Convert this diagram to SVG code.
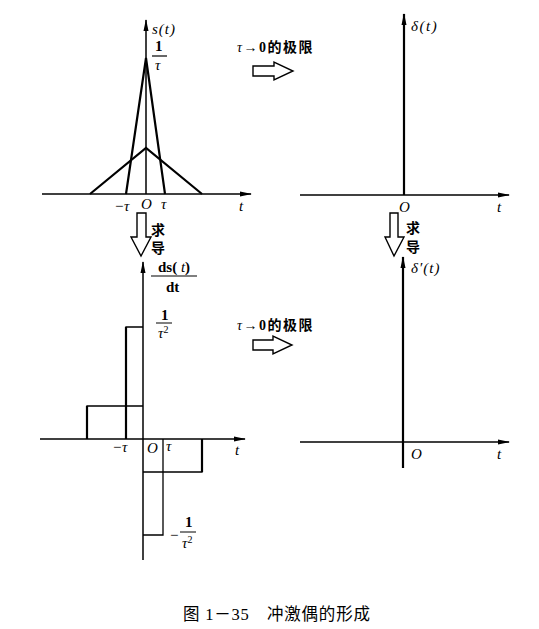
<svg xmlns="http://www.w3.org/2000/svg" width="539" height="629" viewBox="0 0 539 629">
<style>
.ax{stroke:#000;stroke-width:1.5;fill:none}
.th{stroke:#000;stroke-width:2.2;fill:none}
.tn{stroke:#000;stroke-width:1.3;fill:none}
.hol{stroke:#000;stroke-width:1.4;fill:#fff}
.it{font-family:"Liberation Serif",serif;font-style:italic;font-size:15px;fill:#000}
.rm{font-family:"Liberation Serif",serif;font-size:15px;font-weight:bold;fill:#000}
.cj{font-family:"Liberation Serif","Noto Sans CJK SC",sans-serif;font-size:14px;font-weight:bold;fill:#000}
.cap{font-family:"Liberation Serif","Noto Sans CJK SC",serif;font-size:16.5px;fill:#000}
</style>
<defs>
<marker id="ah" markerWidth="12" markerHeight="6" refX="11" refY="3" orient="auto" markerUnits="userSpaceOnUse">
<path d="M0,0.5 L12,3 L0,5.5 Z" fill="#000"/>
</marker>
</defs>
<g id="connectors">
<line class="ax" x1="42" y1="194" x2="251" y2="194" marker-end="url(#ah)"/>
<line class="ax" x1="146" y1="194" x2="146" y2="20" marker-end="url(#ah)"/>
<line class="ax" x1="300" y1="195" x2="509" y2="195" marker-end="url(#ah)"/>
<line class="th" x1="404" y1="195" x2="404" y2="14" marker-end="url(#ah)"/>
<line class="ax" x1="40" y1="439" x2="245" y2="439" marker-end="url(#ah)"/>
<line class="ax" x1="143" y1="560" x2="143" y2="262" marker-end="url(#ah)"/>
<line class="ax" x1="300" y1="442" x2="509" y2="442" marker-end="url(#ah)"/>
<line class="th" x1="403" y1="468" x2="403" y2="257" marker-end="url(#ah)"/>
</g>
<g id="s-plot">
<polyline class="th" points="126,194 146,58 165,194"/>
<polyline class="th" points="90,194 146,148 202,194"/>
<text class="it" x="152" y="34" font-size="16" letter-spacing="1">s(t)</text>
<text class="rm" x="155" y="51" font-size="16">1</text>
<line x1="152" y1="56" x2="167" y2="56" stroke="#000" stroke-width="1.2"/>
<text class="it" x="155" y="70" font-size="12">τ</text>
<text class="it" x="114" y="211">−τ</text>
<text class="it" x="141" y="209" font-size="15">O</text>
<text class="it" x="161" y="209" font-size="13">τ</text>
<text class="it" x="239" y="211">t</text>
</g>
<g id="delta-plot">
<text class="it" x="411" y="31" font-size="16" letter-spacing="1.5">δ(t)</text>
<text class="it" x="399" y="212" font-size="15">O</text>
<text class="it" x="497" y="212">t</text>
</g>
<g id="ds-plot">
<polyline class="tn" points="87,439 87,406 143,406"/>
<line class="th" x1="87" y1="406" x2="87" y2="439"/>
<polyline class="tn" points="126,439 126,327 143,327"/>
<line class="th" x1="126" y1="327" x2="126" y2="439"/>
<polyline class="tn" points="143,472 202,472 202,439"/>
<line class="th" x1="202" y1="439" x2="202" y2="472"/>
<polyline class="tn" points="163,439 163,535 143,535"/>
<text class="rm" x="158" y="272" font-size="16">ds(<tspan font-style="italic" font-weight="normal"> t</tspan>)</text>
<line x1="151" y1="276" x2="197" y2="276" stroke="#000" stroke-width="1.2"/>
<text class="rm" x="166" y="292" font-size="16">dt</text>
<text class="rm" x="161" y="320" font-weight="normal">1</text>
<line x1="156" y1="323" x2="172" y2="323" stroke="#000" stroke-width="1"/>
<text class="it" x="158" y="338" font-size="13">τ<tspan dy="-5" font-size="10" font-style="normal">2</tspan></text>
<text class="it" x="112" y="452">−τ</text>
<text class="it" x="147" y="453" font-size="15">O</text>
<text class="it" x="166" y="451" font-size="12">τ</text>
<text class="it" x="235" y="455" font-size="12">t</text>
<text class="it" x="169" y="540" font-style="normal">−</text>
<text class="rm" x="185" y="527" font-weight="normal">1</text>
<line x1="180" y1="532" x2="196" y2="532" stroke="#000" stroke-width="1"/>
<text class="it" x="182" y="548" font-size="13">τ<tspan dy="-5" font-size="10" font-style="normal">2</tspan></text>
</g>
<g id="ddelta-plot">
<text class="it" x="411" y="273" font-size="16" letter-spacing="1">δ′(t)</text>
<text class="it" x="411" y="459" font-size="15">O</text>
<text class="it" x="497" y="459">t</text>
</g>
<g id="limit-arrow-1">
<text class="cj" x="237" y="52" letter-spacing="1.5"><tspan font-style="italic" font-weight="normal">τ</tspan>→0的极限</text>
<path class="hol" d="M253,66 L274,66 L274,62 L293,71 L274,80 L274,76 L253,76 Z"/>
</g>
<g id="limit-arrow-2">
<text class="cj" x="237" y="330" letter-spacing="1.5"><tspan font-style="italic" font-weight="normal">τ</tspan>→0的极限</text>
<path class="hol" d="M253,340 L273,340 L273,336 L292,345 L273,354 L273,350 L253,350 Z"/>
</g>
<g id="deriv-arrow-1">
<path class="hol" d="M137,213 L146,213 L146,237 L151,237 L141,256 L131,237 L137,237 Z"/>
<text class="cj" x="151" y="235">求</text>
<text class="cj" x="151" y="253">导</text>
</g>
<g id="deriv-arrow-2">
<path class="hol" d="M390,213 L398,213 L398,237 L404,237 L394,256 L385,237 L390,237 Z"/>
<text class="cj" x="406" y="233">求</text>
<text class="cj" x="406" y="252">导</text>
</g>
<g id="caption">
<text class="cap" x="183" y="620" letter-spacing="0.8">图 1－35　冲激偶的形成</text>
</g>
</svg>
